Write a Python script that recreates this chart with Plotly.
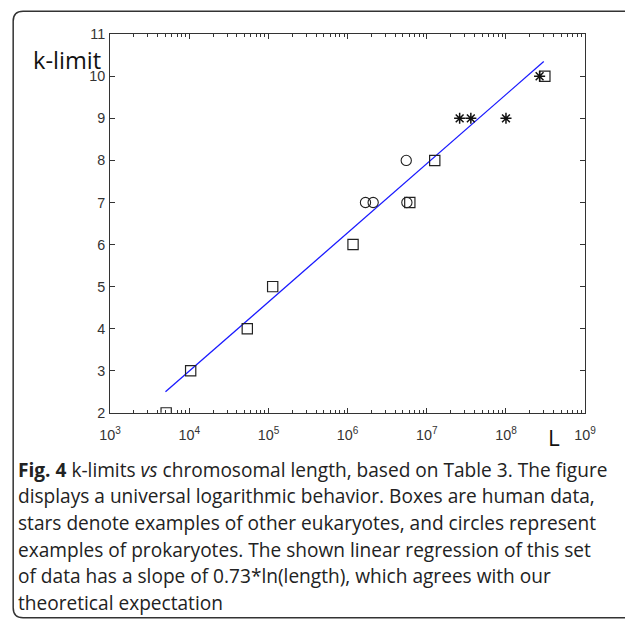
import plotly.graph_objects as go

W, H = 625, 620
# The photographed page shows the window inset by ~8px and scaled by ~0.975, so
# target picture positions are converted to window positions before use.
S, PAD = 0.975, 8

# ---- data ----
human_L = [5.1e3, 1.04e4, 5.4e4, 1.13e5, 1.17e6, 6.1e6, 1.26e7, 3.1e8]
human_k = [2, 3, 4, 5, 6, 7, 8, 10]
euk_L = [2.6e7, 3.6e7, 1.0e8, 2.66e8]
euk_k = [9, 9, 9, 10]
prok_L = [1.68e6, 2.1e6, 5.6e6, 5.5e6]
prok_k = [7, 7, 7, 8]
fit_L = [5.0e3, 3.0e8]
fit_k = [2.5, 10.35]

x_tickvals = [1e3, 1e4, 1e5, 1e6, 1e7, 1e8, 1e9]
x_ticktext = ["10<sup>3</sup>", "10<sup>4</sup>", "10<sup>5</sup>", "10<sup>6</sup>",
              "10<sup>7</sup>", "10<sup>8</sup>", "10<sup>9</sup>"]
y_tickvals = [2, 3, 4, 5, 6, 7, 8, 9, 10, 11]

caption_lines = [
    "<b>Fig. 4</b> k-limits <i>vs</i> chromosomal length, based on Table 3. The figure",
    "displays a universal logarithmic behavior. Boxes are human data,",
    "stars denote examples of other eukaryotes, and circles represent",
    "examples of prokaryotes. The shown linear regression of this set",
    "of data has a slope of 0.73*ln(length), which agrees with our",
    "theoretical expectation",
]


def wx(t):
    return t / S - PAD


def px(t):
    return wx(t) / W


def py(t):
    return 1 - wx(t) / H


def k(v):
    return v / S


fig = go.Figure()
fig.add_trace(go.Scatter(x=fit_L, y=fit_k, mode="lines",
                         line=dict(color="#1a1aff", width=1.3), showlegend=False))
fig.add_trace(go.Scatter(x=human_L, y=human_k, mode="markers",
                         marker=dict(symbol="square-open", size=k(10), color="#222",
                                     line=dict(width=1.2, color="#222")),
                         showlegend=False))
fig.add_trace(go.Scatter(x=prok_L, y=prok_k, mode="markers",
                         marker=dict(symbol="circle-open", size=k(10), color="#222",
                                     line=dict(width=1.1, color="#222")),
                         showlegend=False))
fig.add_trace(go.Scatter(x=euk_L, y=euk_k, mode="markers",
                         marker=dict(symbol="asterisk-open", size=k(9), color="#111",
                                     line=dict(width=1.5, color="#111")),
                         showlegend=False))

axis_common = dict(showline=True, linecolor="#333", linewidth=1.3, mirror="allticks",
                   ticks="inside", ticklen=5, tickcolor="#333", tickwidth=1,
                   showgrid=False, zeroline=False,
                   tickfont=dict(family="Liberation Sans, Arial", size=k(14), color="#333"))

fig.update_layout(
    width=W, height=H,
    margin=dict(l=0, r=0, t=0, b=0),
    paper_bgcolor="white", plot_bgcolor="white",
    xaxis=dict(type="log", range=[3, 9], domain=[px(108), px(588)],
               tickvals=x_tickvals, ticktext=x_ticktext, ticklabelstandoff=9,
               minor=dict(ticks="inside", ticklen=3, tickcolor="#333", dtick="D1", showgrid=False),
               **axis_common),
    yaxis=dict(range=[2, 11], domain=[py(413), py(34)], tickvals=y_tickvals,
               ticklabelstandoff=1, **axis_common),
)

# labels
fig.add_annotation(text="k-limit", x=px(28), y=py(60), xref="paper", yref="paper",
                   xanchor="left", yanchor="middle", showarrow=False,
                   font=dict(family="Open Sans", size=k(23), color="#111"))
fig.add_annotation(text="L", x=px(557), y=py(438), xref="paper", yref="paper",
                   xanchor="center", yanchor="middle", showarrow=False,
                   font=dict(family="Open Sans", size=k(22), color="#111"))

# caption
for i, line in enumerate(caption_lines):
    fig.add_annotation(text=line, x=px(12.5), y=py(470 + i * 26.6), xref="paper", yref="paper",
                       xanchor="left", yanchor="middle", showarrow=False, align="left",
                       font=dict(family="Open Sans", size=19.1, color="#222"))

# border (rounded top-left and bottom-left corners)
r = 10
x0, y0, y1, x1 = 10, 11, 618, 660
path = (f"M {px(x1)},{py(y0)} L {px(x0 + r)},{py(y0)} Q {px(x0)},{py(y0)} {px(x0)},{py(y0 + r)} "
        f"L {px(x0)},{py(y1 - r)} Q {px(x0)},{py(y1)} {px(x0 + r)},{py(y1)} L {px(x1)},{py(y1)}")
fig.add_shape(type="path", path=path, xref="paper", yref="paper",
              line=dict(color="#333", width=1.5))

fig.write_html(
    "out.html",
    config={"displayModeBar": False},
    post_script=("document.documentElement.style.margin='0';"
                 "document.body.style.margin='0';document.body.style.padding='0';"
                 "document.body.style.overflow='hidden';"),
)
